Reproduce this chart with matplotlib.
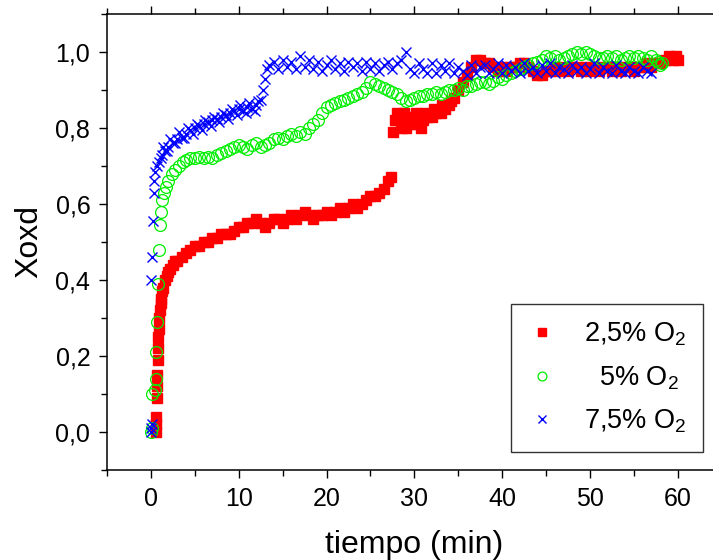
import matplotlib
matplotlib.use("Agg")
import matplotlib.pyplot as plt
from matplotlib.ticker import MultipleLocator, FuncFormatter

plt.rcParams["font.family"] = ["Liberation Sans", "DejaVu Sans"]
plt.rcParams["mathtext.fontset"] = "custom"
plt.rcParams["mathtext.rm"] = "Liberation Sans"
plt.rcParams["mathtext.it"] = "Liberation Sans"

# 2,5% O2
red_t = [
    0.6, 0.6, 0.6, 0.7, 0.7, 0.7, 0.8, 0.8, 0.8, 0.9,
    0.9, 1.0, 1.1, 1.2, 1.3, 1.4, 1.6, 1.8, 2.0, 2.2,
    2.5, 2.8, 3.0, 3.5, 4.0, 4.5, 5.0, 5.5, 6.0, 6.5,
    7.0, 7.5, 8.0, 8.5, 9.0, 9.5, 10.0, 10.5, 11.0, 11.5,
    12.0, 12.5, 13.0, 13.5, 14.0, 14.5, 15.0, 15.5, 16.0, 16.5,
    17.0, 17.5, 18.0, 18.5, 19.0, 19.5, 20.0, 20.5, 21.0, 21.5,
    22.0, 22.5, 23.0, 23.5, 24.0, 24.5, 25.0, 25.5, 26.0, 26.5,
    27.0, 27.3, 27.6, 27.8, 28.0, 28.5, 29.0, 29.5, 30.0, 30.5,
    31.0, 31.5, 32.0, 32.5, 33.0, 33.5, 34.0, 34.5, 35.0, 35.5,
    36.0, 36.5, 37.0, 37.5, 38.0, 38.5, 39.0, 39.5, 40.0, 40.5,
    41.0, 41.5, 42.0, 42.5, 43.0, 43.5, 44.0, 44.5, 45.0, 45.5,
    46.0, 46.5, 47.0, 47.5, 48.0, 48.5, 49.0, 49.5, 50.0, 50.5,
    51.0, 51.5, 52.0, 52.5, 53.0, 53.5, 54.0, 54.5, 55.0, 55.5,
    56.0, 56.5, 57.0, 57.5, 58.0, 58.5, 59.0, 59.5, 60.0, 59.8,
    28.2, 28.8, 29.4, 30.2, 31.2, 32.2, 33.2, 34.2, 28.6, 30.8,
]
red_y = [
    0.00, 0.02, 0.04, 0.09, 0.12, 0.15, 0.19, 0.22, 0.25, 0.27,
    0.30, 0.32, 0.34, 0.35, 0.37, 0.38, 0.40, 0.41, 0.42, 0.43,
    0.44, 0.45, 0.45, 0.46, 0.47, 0.48, 0.49, 0.49, 0.50, 0.50,
    0.51, 0.51, 0.52, 0.52, 0.52, 0.53, 0.54, 0.54, 0.55, 0.55,
    0.56, 0.55, 0.54, 0.55, 0.56, 0.56, 0.55, 0.56, 0.57, 0.56,
    0.57, 0.58, 0.57, 0.56, 0.57, 0.57, 0.58, 0.57, 0.58, 0.59,
    0.58, 0.59, 0.60, 0.59, 0.60, 0.61, 0.62, 0.62, 0.63, 0.64,
    0.66, 0.67, 0.79, 0.82, 0.84, 0.81, 0.80, 0.81, 0.81, 0.82,
    0.82, 0.83, 0.83, 0.84, 0.84, 0.85, 0.86, 0.88, 0.90, 0.92,
    0.94, 0.96, 0.98, 0.98, 0.97, 0.97, 0.96, 0.95, 0.96, 0.95,
    0.96, 0.96, 0.97, 0.97, 0.96, 0.95, 0.94, 0.94, 0.95, 0.95,
    0.96, 0.95, 0.96, 0.95, 0.96, 0.96, 0.95, 0.96, 0.95, 0.96,
    0.95, 0.96, 0.96, 0.95, 0.96, 0.95, 0.96, 0.96, 0.95, 0.96,
    0.96, 0.97, 0.96, 0.97, 0.97, 0.98, 0.99, 0.98, 0.98, 0.99,
    0.83, 0.84, 0.83, 0.84, 0.84, 0.85, 0.86, 0.87, 0.80, 0.80,
]

# 5% O2
green_t = [
    0.0, 0.1, 0.1, 0.5, 0.6, 0.6, 0.7, 0.8, 0.9, 1.0,
    1.1, 1.3, 1.5, 1.7, 2.0, 2.4, 2.8, 3.2, 3.6, 4.0,
    4.5, 5.0, 5.5, 6.0, 6.5, 7.0, 7.5, 8.0, 8.5, 9.0,
    9.5, 10.0, 10.5, 11.0, 11.5, 12.0, 12.5, 13.0, 13.5, 14.0,
    14.5, 15.0, 15.5, 16.0, 16.5, 17.0, 17.5, 18.0, 18.5, 19.0,
    19.5, 20.0, 20.5, 21.0, 21.5, 22.0, 22.5, 23.0, 23.5, 24.0,
    24.5, 25.0, 25.5, 26.0, 26.5, 27.0, 27.5, 28.0, 28.5, 29.0,
    29.5, 30.0, 30.5, 31.0, 31.5, 32.0, 32.5, 33.0, 33.5, 34.0,
    34.5, 35.0, 35.5, 36.0, 36.5, 37.0, 37.5, 38.0, 38.5, 39.0,
    39.5, 40.0, 40.5, 41.0, 41.5, 42.0, 42.5, 43.0, 43.5, 44.0,
    44.5, 45.0, 45.5, 46.0, 46.5, 47.0, 47.5, 48.0, 48.5, 49.0,
    49.5, 50.0, 50.5, 51.0, 51.5, 52.0, 52.5, 53.0, 53.5, 54.0,
    54.5, 55.0, 55.5, 56.0, 56.5, 57.0, 57.5, 57.8, 58.0, 58.2,
]
green_y = [
    0.00, 0.01, 0.10, 0.11, 0.14, 0.21, 0.29, 0.39, 0.48, 0.545,
    0.58, 0.61, 0.63, 0.645, 0.66, 0.68, 0.69, 0.70, 0.71, 0.715,
    0.72, 0.72, 0.725, 0.72, 0.725, 0.72, 0.73, 0.735, 0.74, 0.745,
    0.75, 0.755, 0.75, 0.745, 0.755, 0.76, 0.75, 0.755, 0.76, 0.77,
    0.775, 0.77, 0.78, 0.785, 0.78, 0.79, 0.785, 0.80, 0.81, 0.82,
    0.84, 0.855, 0.86, 0.865, 0.87, 0.875, 0.88, 0.885, 0.89, 0.895,
    0.905, 0.92, 0.915, 0.91, 0.905, 0.90, 0.895, 0.89, 0.88, 0.87,
    0.875, 0.88, 0.885, 0.885, 0.89, 0.89, 0.895, 0.89, 0.895, 0.90,
    0.90, 0.905, 0.90, 0.91, 0.91, 0.915, 0.92, 0.92, 0.915, 0.925,
    0.935, 0.93, 0.94, 0.945, 0.95, 0.955, 0.96, 0.965, 0.97, 0.975,
    0.98, 0.99, 0.985, 0.99, 0.98, 0.985, 0.99, 0.995, 1.00, 0.995,
    1.00, 0.995, 0.99, 0.985, 0.985, 0.99, 0.985, 0.99, 0.98, 0.985,
    0.99, 0.985, 0.99, 0.985, 0.98, 0.99, 0.98, 0.975, 0.965, 0.97,
]

# 7,5% O2
blue_t = [
    0.0, 0.0, 0.1, 0.0, 0.1, 0.2, 0.3, 0.4, 0.5, 0.7,
    0.9, 1.1, 1.3, 1.6, 2.0, 2.5, 3.0, 3.5, 4.0, 4.5,
    5.0, 5.5, 6.0, 6.5, 7.0, 7.5, 8.0, 8.5, 9.0, 9.5,
    10.0, 10.5, 11.0, 11.5, 12.0, 12.5, 12.8, 13.0, 13.2, 13.5,
    14.0, 14.5, 15.0, 15.5, 16.0, 16.5, 17.0, 17.5, 18.0, 18.5,
    19.0, 19.5, 20.0, 20.5, 21.0, 21.5, 22.0, 22.5, 23.0, 23.5,
    24.0, 24.5, 25.0, 25.5, 26.0, 26.5, 27.0, 27.5, 28.0, 28.5,
    29.0, 29.5, 30.0, 30.5, 31.0, 31.5, 32.0, 32.5, 33.0, 33.5,
    34.0, 34.5, 35.0, 35.5, 36.0, 36.5, 37.0, 37.5, 38.0, 38.5,
    39.0, 39.5, 40.0, 40.5, 41.0, 41.5, 42.0, 42.5, 43.0, 43.5,
    44.0, 44.5, 45.0, 45.5, 46.0, 46.5, 47.0, 47.5, 48.0, 48.5,
    49.0, 49.5, 50.0, 50.5, 51.0, 51.5, 52.0, 52.5, 53.0, 53.5,
    54.0, 54.5, 55.0, 55.5, 56.0, 56.5, 57.0,
    1.4, 1.8, 2.2, 2.8, 3.2, 3.8, 4.2, 4.8, 5.2, 5.8,
    6.2, 6.8, 7.2, 7.8, 8.2, 8.8, 9.2, 9.8, 10.2, 10.8,
    11.2, 11.8, 12.2,
]
blue_y = [
    0.00, 0.01, 0.02, 0.40, 0.46, 0.555, 0.63, 0.66, 0.685, 0.70,
    0.71, 0.72, 0.73, 0.74, 0.75, 0.76, 0.77, 0.775, 0.785, 0.795,
    0.80, 0.805, 0.81, 0.815, 0.82, 0.825, 0.83, 0.835, 0.84, 0.845,
    0.85, 0.845, 0.855, 0.85, 0.86, 0.875, 0.90, 0.93, 0.955, 0.965,
    0.975, 0.955, 0.98, 0.96, 0.975, 0.955, 0.99, 0.96, 0.98, 0.955,
    0.975, 0.95, 0.965, 0.98, 0.955, 0.97, 0.95, 0.975, 0.96, 0.97,
    0.95, 0.975, 0.955, 0.97, 0.95, 0.965, 0.975, 0.955, 0.97, 0.98,
    1.00, 0.955, 0.945, 0.97, 0.955, 0.945, 0.97, 0.945, 0.965, 0.95,
    0.97, 0.945, 0.96, 0.95, 0.94, 0.965, 0.945, 0.96, 0.965, 0.945,
    0.955, 0.97, 0.945, 0.965, 0.95, 0.96, 0.945, 0.97, 0.95, 0.96,
    0.945, 0.965, 0.95, 0.97, 0.945, 0.96, 0.955, 0.945, 0.965, 0.95,
    0.96, 0.945, 0.955, 0.97, 0.945, 0.96, 0.95, 0.945, 0.965, 0.95,
    0.945, 0.96, 0.95, 0.945, 0.96, 0.95, 0.945,
    0.75, 0.74, 0.77, 0.76, 0.79, 0.775, 0.80, 0.785, 0.81, 0.795,
    0.82, 0.805, 0.83, 0.815, 0.84, 0.825, 0.85, 0.835, 0.86, 0.84,
    0.865, 0.845, 0.87,
]

labels = ["2,5% O$_2$", "  5% O$_2$", "7,5% O$_2$"]

fig = plt.figure(figsize=(7.13, 5.6), dpi=100)
# axes run past the right edge of the canvas, so no right frame shows
ax = fig.add_axes([107 / 713, 90 / 560, 614.6 / 713, 456 / 560])

ax.plot(red_t, red_y, linestyle="none", marker="s", ms=7.5, color="#ff0000",
        mec="#ff0000", label=labels[0])
ax.plot(green_t, green_y, linestyle="none", marker="o", ms=8.5, mfc="none",
        mec="#00ee00", mew=0.9, label=labels[1])
ax.plot(blue_t, blue_y, linestyle="none", marker="x", ms=7.5, color="#0000ff",
        mew=1.0, label=labels[2])

ax.set_xlim(-5, 65)
ax.set_ylim(-0.1, 1.1)
ax.spines["right"].set_visible(False)
for s in ("left", "bottom", "top"):
    ax.spines[s].set_linewidth(1.1)

ax.xaxis.set_major_locator(MultipleLocator(10))
ax.xaxis.set_minor_locator(MultipleLocator(5))
ax.yaxis.set_major_locator(MultipleLocator(0.2))
ax.yaxis.set_minor_locator(MultipleLocator(0.1))
ax.yaxis.set_major_formatter(FuncFormatter(lambda v, p: f"{v:.1f}".replace(".", ",")))

ax.tick_params(which="both", direction="out", width=1.0, labelsize=18,
               top=True, right=False)
ax.tick_params(which="major", length=6, pad=6)
ax.tick_params(which="minor", length=4)

ax.set_xlabel("tiempo (min)", fontsize=23, labelpad=14)
ax.set_ylabel("Xoxd", fontsize=23, labelpad=8)

leg = ax.legend(loc="upper left", bbox_to_anchor=(511 / 713, 1 - 304 / 560),
                bbox_transform=fig.transFigure, borderaxespad=0,
                fontsize=19.5, frameon=True, fancybox=False, edgecolor="black",
                markerscale=0.75, handlelength=1.1, handletextpad=1.0,
                labelspacing=0.6, borderpad=0.6)
leg.get_frame().set_linewidth(1.0)

fig.savefig("out.png", dpi=100)
